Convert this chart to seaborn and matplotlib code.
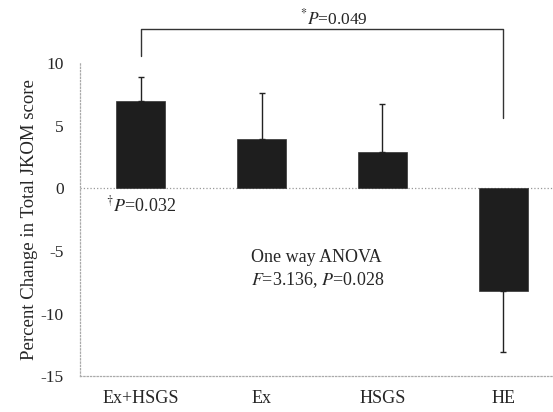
import matplotlib
matplotlib.use("Agg")
import matplotlib.pyplot as plt
import seaborn as sns
import pandas as pd

# values
groups = ["Ex+HSGS", "Ex", "HSGS", "HE"]
mean_change = [7.0, 3.9, 2.9, -8.2]
err = [1.9, 3.7, 3.8, 4.9]
y_ticks = [-15, -10, -5, 0, 5, 10]

sns.set_style("white")
plt.rcParams["font.family"] = ["Liberation Serif", "DejaVu Serif"]
plt.rcParams["mathtext.fontset"] = "stix"

df = pd.DataFrame({"group": groups, "change": mean_change})

fig = plt.figure(figsize=(5.53, 4.12), dpi=100)
ax = fig.add_axes([0.145, 0.087, 0.855, 0.76])

sns.barplot(data=df, x="group", y="change", color="#1e1e1e", width=0.4,
            saturation=1, ax=ax, edgecolor="#333333", linewidth=0.5)

# one-sided error bars (away from zero)
lower = [0 if m >= 0 else e for m, e in zip(mean_change, err)]
upper = [e if m >= 0 else 0 for m, e in zip(mean_change, err)]
ax.errorbar(range(len(groups)), mean_change, yerr=[lower, upper], fmt="none",
            ecolor="#222222", elinewidth=1, capsize=2.5, capthick=1)

ax.axhline(0, color="#999999", ls=":", lw=0.9, zorder=0)
ax.set_xlim(-0.5, 3.41)
ax.set_ylim(-15, 10)
ax.set_yticks(y_ticks)
ax.set_yticklabels([str(t) for t in y_ticks], fontsize=12.5)
ax.tick_params(axis="x", labelsize=13, pad=10, length=0)
ax.tick_params(axis="y", pad=12, length=0)
ax.set_xlabel("")
ax.set_ylabel("Percent Change in Total JKOM score", fontsize=13.5, labelpad=2)

for side in ["top", "right"]:
    ax.spines[side].set_visible(False)
for side in ["left", "bottom"]:
    ax.spines[side].set_color("#aaaaaa")
    ax.spines[side].set_linestyle(":")
    ax.spines[side].set_linewidth(0.9)

# bracket between Ex+HSGS and HE
ax.plot([0, 0, 3, 3], [10.6, 12.7, 12.7, 5.6], color="#333333", lw=1,
        clip_on=False)
ax.text(1.6, 13.55, r"$^{*}P$=0.049", ha="center", va="center", fontsize=12.5)

ax.text(0, -0.6, r"$^{\dagger}P$=0.032", ha="center", va="top", fontsize=13)
ax.text(0.91, -5.5, "One way ANOVA", ha="left", va="center", fontsize=13)
ax.text(0.91, -7.3, r"$F$=3.136, $P$=0.028", ha="left", va="center",
        fontsize=13)

fig.savefig("out.png", dpi=100)
